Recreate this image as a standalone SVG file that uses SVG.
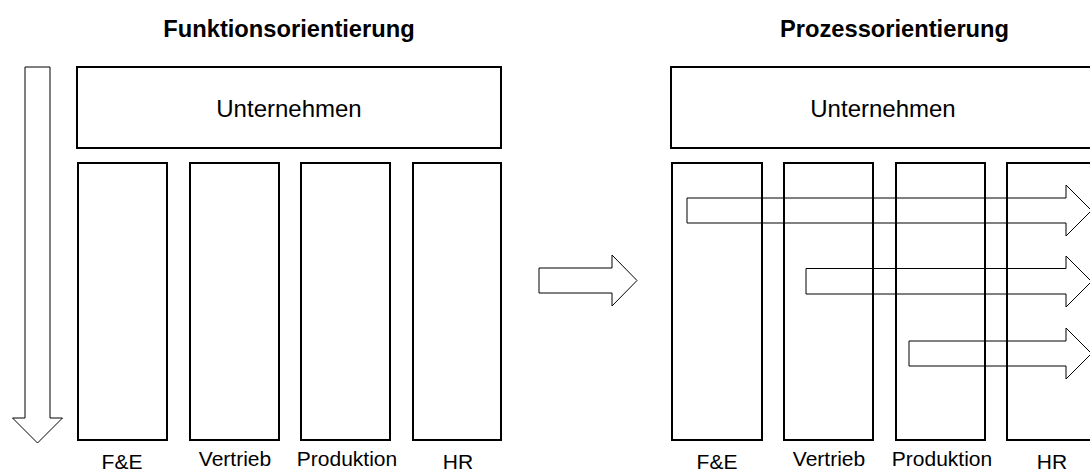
<svg xmlns="http://www.w3.org/2000/svg" width="1090" height="471" viewBox="0 0 1090 471">
<style>
.box{fill:none;stroke:#000;stroke-width:2}
.arr{fill:none;stroke:#000;stroke-width:1}
.title{font-family:"Liberation Sans",Arial,sans-serif;font-weight:bold;font-size:23.7px;text-anchor:middle}
.big{font-family:"Liberation Sans",Arial,sans-serif;font-size:24px;text-anchor:middle}
.lbl{font-family:"Liberation Sans",Arial,sans-serif;font-size:21px;text-anchor:middle}
</style>
<rect width="1090" height="471" fill="#fff"/>
<text class="title" x="289" y="37">Funktionsorientierung</text>
<text class="title" x="894.5" y="37">Prozessorientierung</text>
<g id="connectors">
<polygon id="arrow-down" class="arr" points="25,67 50,67 50,418 62.5,418 37.5,443 12.5,418 25,418"/>
<polygon id="arrow-mid" class="arr" points="539,268 612,268 612,255 637,280.5 612,306 612,293 539,293"/>
</g>
<g id="left-unternehmen"><rect class="box" x="77" y="67" width="424" height="81"/><text class="big" x="289" y="117">Unternehmen</text></g>
<g id="left-fe"><rect class="box" x="78" y="163" width="89" height="277"/><text class="lbl" x="122" y="469">F&amp;E</text></g>
<g id="left-vertrieb"><rect class="box" x="190" y="163" width="89" height="277"/><text class="lbl" x="235" y="466">Vertrieb</text></g>
<g id="left-produktion"><rect class="box" x="301" y="163" width="89" height="277"/><text class="lbl" x="347" y="466">Produktion</text></g>
<g id="left-hr"><rect class="box" x="413" y="163" width="88" height="277"/><text class="lbl" x="458" y="469">HR</text></g>
<g id="right-unternehmen"><rect class="box" x="671" y="67" width="424" height="81"/><text class="big" x="883" y="117">Unternehmen</text></g>
<g id="right-fe"><rect class="box" x="672" y="163" width="90" height="277"/><text class="lbl" x="717" y="469">F&amp;E</text></g>
<g id="right-vertrieb"><rect class="box" x="784" y="163" width="89" height="277"/><text class="lbl" x="829" y="466">Vertrieb</text></g>
<g id="right-produktion"><rect class="box" x="896" y="163" width="89" height="277"/><text class="lbl" x="942" y="466">Produktion</text></g>
<g id="right-hr"><rect class="box" x="1007" y="163" width="89" height="277"/><text class="lbl" x="1052" y="469">HR</text></g>
<g id="process-arrows">
<polygon id="proc1" class="arr" points="687,198 1066,198 1066,185 1091.5,210.5 1066,236 1066,223 687,223"/>
<polygon id="proc2" class="arr" points="806,268.5 1066,268.5 1066,256 1091.5,281.5 1066,307 1066,294 806,294"/>
<polygon id="proc3" class="arr" points="909,341 1066,341 1066,328 1091.5,353.5 1066,379 1066,366 909,366"/>
</g>
</svg>
